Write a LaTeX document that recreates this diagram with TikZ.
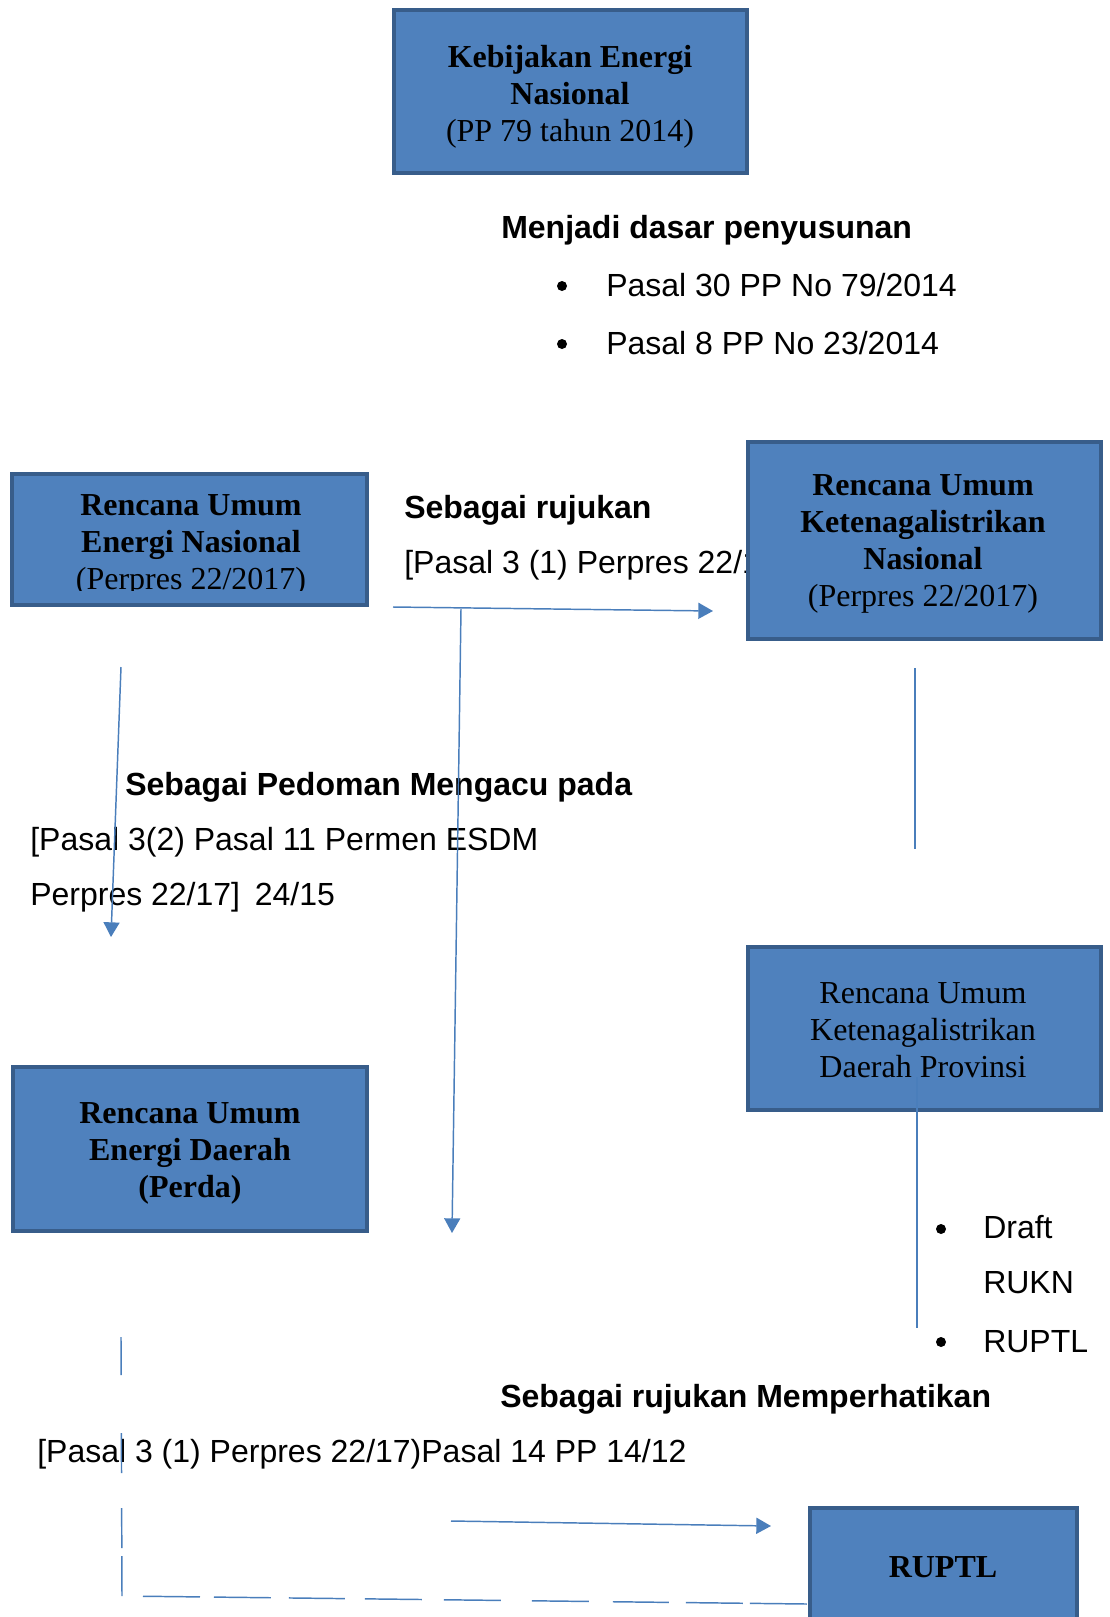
\documentclass[tikz,border=0pt]{standalone}
\usepackage{fontspec}
\setmainfont{Liberation Serif}
\setsansfont{Liberation Sans}
\usetikzlibrary{arrows.meta}

\definecolor{boxfill}{HTML}{4F81BD}
\definecolor{boxedge}{HTML}{385D8A}
\definecolor{linkblue}{HTML}{4A7EBB}

\begin{document}
\begin{tikzpicture}[x=0.75pt,y=-0.75pt,
  box/.style={draw=boxedge, fill=boxfill, line width=3pt, inner sep=0pt},
  boxsize/.style 2 args={minimum width=#1*0.75pt, minimum height=#2*0.75pt},
  boxtext/.style={anchor=base, align=flush center, text width=260pt, inner sep=0pt,
    font=\fontsize{24pt}{27.75pt}\selectfont},
  body/.style={anchor=base west, inner sep=0pt,
    font=\sffamily\fontsize{24pt}{28pt}\selectfont},
  bodyb/.style={anchor=base west, inner sep=0pt,
    font=\sffamily\bfseries\fontsize{24pt}{28pt}\selectfont},
  dot/.style={circle, fill=black, inner sep=0pt, minimum size=7.5pt},
  link/.style={draw=linkblue, line width=1.1pt},
  arrowed/.style={-{Triangle[length=11pt,width=12pt]}},
]
\useasboundingbox (0,0) rectangle (1110,1617);

% ---- free captions ----
\node[bodyb] (capdasar) at (501,238) {Menjadi dasar penyusunan};
\node[dot]   (b1) at (562,286) {};
\node[body]  (l1) at (606,296) {Pasal 30 PP No 79/2014};
\node[dot]   (b2) at (562,344) {};
\node[body]  (l2) at (606,354) {Pasal 8 PP No 23/2014};

\node[bodyb] (caprujuk) at (404,518) {Sebagai rujukan};
\node[body]  (refrujuk) at (404,573) {[Pasal 3 (1) Perpres 22/17]};

\node[bodyb] (cappedoman) at (125,795) {Sebagai Pedoman Mengacu pada};
\node[body]  (refpedoman1) at (30,850) {[Pasal 3(2) Pasal 11 Permen ESDM};
\node[body]  (refpedoman2) at (30,905) {Perpres 22/17]\hspace{11pt}24/15};

\node[dot]   (b3) at (941,1229) {};
\node[body]  (l3) at (983,1238) {Draft};
\node[body]  (l3b) at (983,1293) {RUKN};
\node[dot]   (b4) at (941,1342) {};
\node[body]  (l4) at (983,1352) {RUPTL};

\node[bodyb] (capmemper) at (500,1407) {Sebagai rujukan Memperhatikan};
\node[body]  (refmemper) at (37,1462) {[Pasal 3 (1) Perpres 22/17)Pasal 14 PP 14/12};

% ---- boxes ----
\node[box, boxsize={353}{163}] (ken) at (570.5,91.5) {};
\node[boxtext] (kent) at (570,67)
  {\textbf{Kebijakan Energi}\\\textbf{Nasional}\\(PP 79 tahun 2014)};

\node[box, boxsize={355}{131}] (ruen) at (189.5,539.5) {};
\begin{scope}
  \clip (10,472) rectangle (369,590);
  \node[boxtext] (ruent) at (191,515)
    {\textbf{Rencana Umum}\\\textbf{Energi Nasional}\\(Perpres 22/2017)};
\end{scope}

\node[box, boxsize={353}{197}] (rukn) at (924.5,540.5) {};
\node[boxtext] (ruknt) at (923,495)
  {\textbf{Rencana Umum}\\\textbf{Ketenagalistrikan}\\\textbf{Nasional}\\(Perpres 22/2017)};

\node[box, boxsize={354}{164}] (rued) at (190,1149) {};
\node[boxtext] (ruedt) at (190,1123)
  {\textbf{Rencana Umum}\\\textbf{Energi Daerah}\\\textbf{(Perda)}};

\node[box, boxsize={353}{163}] (rukd) at (924.5,1028.5) {};
\node[boxtext] (rukdt) at (923,1003)
  {Rencana Umum\\Ketenagalistrikan\\Daerah Provinsi};

\node[box, boxsize={267}{152}] (ruptl) at (943.5,1584) {};
\node[boxtext] (ruptlt) at (943,1577) {\textbf{RUPTL}};

% ---- connectors ----
\coordinate (a1s) at (393,607);
\coordinate (a1e) at (713,611);
\coordinate (a2s) at (461,609);
\coordinate (a2e) at (452,1233);
\coordinate (a3s) at (121,667);
\coordinate (a3e) at (111,937);
\coordinate (a4s) at (915,668);
\coordinate (a4e) at (915,849);
\coordinate (a5s) at (917,1077);
\coordinate (a5e) at (917,1328);
\coordinate (a6s) at (451,1521);
\coordinate (a6e) at (771,1526);
\coordinate (d1) at (121,1337);
\coordinate (d2) at (122,1596);
\coordinate (d3) at (807,1604);

\draw[link, arrowed] (a1s) -- (a1e);
\draw[link, arrowed] (a2s) -- (a2e);
\draw[link, arrowed] (a3s) -- (a3e);
\draw[link] (a4s) -- (a4e);
\draw[link] (a5s) -- (a5e);
\draw[link, arrowed] (a6s) -- (a6e);
\draw[link, dash pattern=on 28.5pt off 43.5pt on 30pt off 26.25pt on 30pt off 6pt
  on 30pt off 15.75pt on 42.75pt off 10.5pt on 42.75pt off 13.5pt on 42pt off 15pt
  on 42.75pt off 16.5pt on 42.75pt off 23.25pt on 42.75pt off 18pt on 42pt
  off 12.75pt on 42.75pt off 5.25pt on 42.75pt off 60pt]
  (d1) -- (d2) -- (d3);
\end{tikzpicture}
\end{document}
